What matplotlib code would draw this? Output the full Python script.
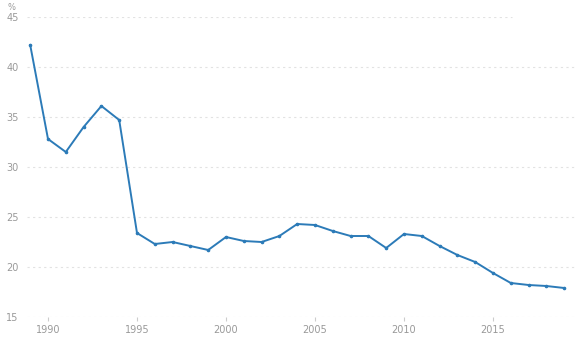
import matplotlib.pyplot as plt

years = list(range(1989, 2020))
values = [42.2, 32.8, 31.5, 34.0, 36.1, 34.7, 23.4, 22.3, 22.5, 22.1,
          21.7, 23.0, 22.6, 22.5, 23.1, 24.3, 24.2, 23.6, 23.1, 23.1,
          21.9, 23.3, 23.1, 22.1, 21.2, 20.5, 19.4, 18.4, 18.2, 18.1, 17.9]
xticks = [1990, 1995, 2000, 2005, 2010, 2015]
yticks = [15, 20, 25, 30, 35, 40, 45]

fig = plt.figure(figsize=(5.77, 3.52), dpi=100)
ax = fig.add_axes([27/577, 35/352, 550/577, 300/352])

# dotted grid, the top line stops short
for y in yticks:
    xmax = 0.882 if y == 45 else 1.0
    ax.axhline(y, xmin=0, xmax=xmax, color='#e2e2e2', lw=0.8,
               linestyle=(0, (2, 3)), zorder=0)

ax.plot(years, values, color='#2c7bb8', lw=1.4, marker='o', markersize=1.6,
        zorder=3)

ax.set_xlim(1988.82, 2019.72)
ax.set_ylim(15, 45)
ax.set_xticks(xticks)
ax.set_yticks(yticks)
ax.tick_params(axis='x', colors='#cccccc', length=3, width=0.8, pad=3,
               labelcolor='#999999', labelsize=7)
ax.tick_params(axis='y', length=0, pad=6, labelcolor='#999999', labelsize=7)
for s in ax.spines.values():
    s.set_visible(False)

fig.text(7/577, 1 - 8/352, '%', color='#999999', fontsize=6, va='center')

fig.savefig('out.png', dpi=100)
